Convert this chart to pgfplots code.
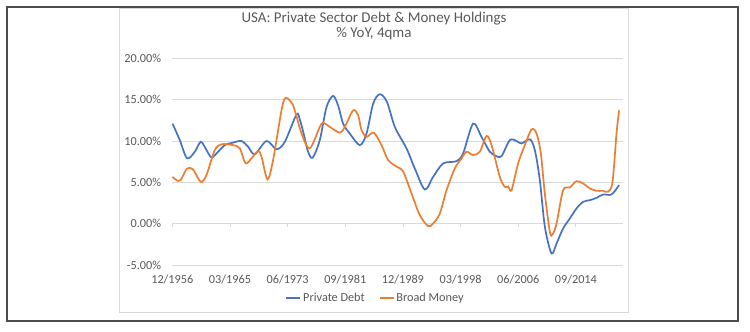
\documentclass[border=0pt]{standalone}
\usepackage{fontspec}
\setmainfont{Carlito}
\usepackage{pgfplots}
\pgfplotsset{compat=1.18}
\definecolor{pdblue}{HTML}{4472C4}
\definecolor{bmorange}{HTML}{ED7D31}
\definecolor{gridgray}{HTML}{D9D9D9}
\definecolor{txtgray}{HTML}{595959}
\begin{document}
\begin{tikzpicture}
\useasboundingbox (0,0) rectangle (750bp,-332bp);
\fill[white] (0,0) rectangle (750bp,-332bp);
\draw[gridgray, line width=0.8bp] (119bp,-8bp) rectangle (628bp,-312bp);
\draw[black!70, line width=1.4bp] (7bp,-7bp) rectangle (738bp,-321bp);
\node[txtgray, font=\fontsize{15}{17}\selectfont] at (374bp,-18.3bp) {USA: Private Sector Debt \& Money Holdings};
\node[txtgray, font=\fontsize{15}{17}\selectfont] at (374bp,-33.3bp) {\% YoY, 4qma};
\begin{axis}[
  at={(172.3bp,-265bp)}, anchor=south west,
  scale only axis, width=450.7bp, height=206.7bp,
  xmin=1956.917, xmax=2021.41, ymin=-5, ymax=20,
  axis line style={draw=none},
  ymajorgrids, grid style={gridgray, line width=0.8bp},
  ytick={-5,0,5,10,15,20},
  yticklabels={-5.00\%,0.00\%,5.00\%,10.00\%,15.00\%,20.00\%},
  xtick={1956.917,1965.167,1973.417,1981.667,1989.917,1998.167,2006.417,2014.667},
  xticklabels={12/1956,03/1965,06/1973,09/1981,12/1989,03/1998,06/2006,09/2014},
  major tick length=0pt,
  tick label style={text=txtgray, font=\fontsize{12.3}{14}\selectfont, inner sep=0pt},
  yticklabel style={anchor=east, xshift=-11bp},
  xticklabel style={anchor=base, yshift=-18.9bp},
  clip=false,
  legend style={at={(0.451,-0.161)}, anchor=center, draw=none, fill=none,
    legend columns=2, font=\fontsize{12.3}{14}\selectfont, text=txtgray, inner sep=0pt,
    /tikz/every even column/.append style={column sep=12bp}},
  legend image code/.code={\draw[#1] (0bp,0bp) -- (14bp,0bp);},
]
\pgfplotsinvokeforeach{1956.917,1965.167,1973.417,1981.667,1989.917,1998.167,2006.417,2014.667}{
  \draw[gridgray, line width=0.8bp] (axis cs:#1,0) -- ([yshift=-3.5bp]axis cs:#1,0);
}
\addplot[pdblue, line width=1.7bp, smooth, tension=0.5] coordinates {
(1956.95,12.1) (1957.99,10.1) (1959.03,7.9) (1960.14,8.7) (1960.99,9.9) (1961.81,8.9)
(1962.53,8.0) (1963.47,8.7) (1964.43,9.5) (1965.62,9.8) (1966.82,10.0) (1967.76,9.3)
(1968.72,8.4) (1970.40,10.0) (1971.83,9.0) (1973.02,9.9) (1974.69,13.2) (1975.16,12.6)
(1975.74,10.8) (1976.31,8.8) (1976.98,7.96) (1978.02,10.1) (1978.98,14.1) (1979.93,15.45)
(1980.64,14.3) (1981.36,12.1) (1982.31,10.9) (1983.75,9.5) (1984.71,10.9) (1985.65,14.5)
(1986.61,15.66) (1987.65,14.7) (1988.76,11.7) (1990.43,9.1) (1991.62,6.67) (1993.05,4.13)
(1994.24,5.66) (1995.67,7.28) (1997.59,7.56) (1998.53,8.5) (1999.96,12.1) (2001.16,10.5)
(2002.35,8.7) (2003.31,8.16) (2004.03,8.16) (2005.21,10.1) (2006.17,10.0) (2006.89,9.7)
(2008.08,10.2) (2008.79,8.9) (2009.51,5.26) (2010.23,-0.38) (2011.18,-3.6) (2011.90,-2.4)
(2012.84,-0.58) (2013.80,0.63) (2014.76,1.84) (2015.70,2.64) (2016.66,2.84) (2017.62,3.12)
(2018.56,3.53) (2019.77,3.53) (2020.85,4.66)
};
\addlegendentry{Private Debt}
\addplot[bmorange, line width=1.7bp, smooth, tension=0.5] coordinates {
(1956.95,5.66) (1957.52,5.26) (1958.09,5.26) (1959.03,6.67) (1959.89,6.55) (1960.99,5.05)
(1961.81,5.9) (1963.0,8.9) (1963.96,9.6) (1965.62,9.5) (1966.58,9.1) (1967.39,7.3)
(1968.25,7.9) (1969.19,8.8) (1969.68,8.1) (1970.54,5.35) (1971.34,7.7) (1972.54,13.7)
(1973.12,15.2) (1974.20,14.3) (1975.41,10.9) (1976.59,9.1) (1978.02,11.7) (1978.50,12.2)
(1979.46,11.7) (1980.89,11.0) (1981.60,11.7) (1982.79,13.7) (1983.51,13.1) (1984.0,11.3)
(1984.71,10.5) (1985.75,11.0) (1986.85,9.5) (1987.80,7.7) (1989.0,6.9) (1989.95,6.3)
(1991.15,3.65) (1992.33,1.03) (1993.52,-0.3) (1994.24,0.02) (1995.20,1.23) (1996.16,4.05)
(1997.34,6.67) (1998.30,7.88) (1999.02,8.7) (1999.96,8.3) (2000.92,8.7) (2001.88,10.6)
(2002.60,9.5) (2003.78,5.66) (2004.50,4.45) (2004.97,4.5) (2005.46,4.05) (2006.40,7.28)
(2007.36,9.5) (2008.32,11.4) (2009.04,10.9) (2009.65,8.5) (2010.22,3.65) (2010.94,-0.99)
(2011.32,-1.3) (2011.90,0.02) (2012.84,4.05) (2013.80,4.38) (2014.76,5.14) (2015.70,4.86)
(2016.66,4.26) (2017.62,3.97) (2018.56,3.97) (2019.28,3.85) (2019.91,5.05) (2020.48,10.9)
(2020.85,13.7)
};
\addlegendentry{Broad Money}
\end{axis}
\end{tikzpicture}
\end{document}
